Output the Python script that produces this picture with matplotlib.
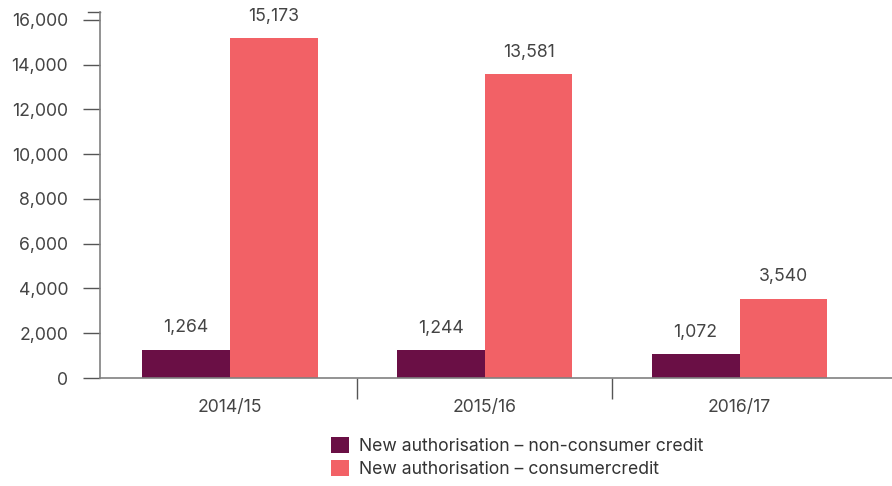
import matplotlib
matplotlib.use("Agg")
import matplotlib.pyplot as plt
from matplotlib.patches import Patch
import numpy as np

plt.rcParams['font.family'] = ['Inter', 'DejaVu Sans']

# 数据
years = ['2014/15', '2015/16', '2016/17']
non_consumer = [1264, 1244, 1072]
consumer = [15173, 13581, 3540]
series_names = ['New authorisation – non-consumer credit',
                'New authorisation – consumercredit']

c_dark = '#6A0F45'
c_coral = '#F26166'
txt = '#444444'
axc = '#808080'
fs = 12.7

fig = plt.figure(figsize=(8.92, 4.86), dpi=100)
ax = fig.add_axes([100 / 892, 1 - 378 / 486, 792 / 892, 366 / 486])

x = np.arange(len(years))
w = 0.345
ax.bar(x - w / 2, non_consumer, w, color=c_dark)
ax.bar(x + w / 2, consumer, w, color=c_coral)

# 数值标签
for xi, v in zip(x - w / 2, non_consumer):
    ax.text(xi, v + 600, f'{v:,}', ha='center', va='bottom', fontsize=fs, color=txt)
for xi, v in zip(x + w / 2, consumer):
    ax.text(xi, v + 600, f'{v:,}', ha='center', va='bottom', fontsize=fs, color=txt)

ax.set_xlim(-0.508, 2.598)
ax.set_ylim(0, 16350)

ax.set_yticks(range(0, 16001, 2000))
ax.set_yticklabels([f'{v:,}' for v in range(0, 16001, 2000)], fontsize=fs, color=txt)
ax.tick_params(axis='y', direction='out', length=12, width=1, color='#555555', pad=11)

# x轴: 分隔刻度 + 类别标签
ax.set_xticks([0.5, 1.5])
ax.set_xticklabels(['', ''])
ax.tick_params(axis='x', which='major', direction='out', length=15, width=1, color='#555555')
ax.set_xticks(x, minor=True)
ax.set_xticklabels(years, minor=True, fontsize=fs, color=txt)
ax.tick_params(axis='x', which='minor', length=0, pad=15)

for s in ['top', 'right']:
    ax.spines[s].set_visible(False)
for s in ['left', 'bottom']:
    ax.spines[s].set_color(axc)
    ax.spines[s].set_linewidth(1.2)

# 顶端短横线
ax.plot([-0.508 - 12 / 255, -0.508], [16350, 16350], color='#555555', lw=1,
        clip_on=False, transform=ax.transData)

handles = [Patch(facecolor=c_dark), Patch(facecolor=c_coral)]
fig.legend(handles, series_names, loc='upper left', bbox_to_anchor=(315 / 892, 1 - 421 / 486),
           frameon=False, fontsize=fs, labelcolor='#333333',
           handlelength=1.0, handleheight=1.0, handletextpad=0.6, labelspacing=0.3)

fig.savefig('out.png', dpi=100)
